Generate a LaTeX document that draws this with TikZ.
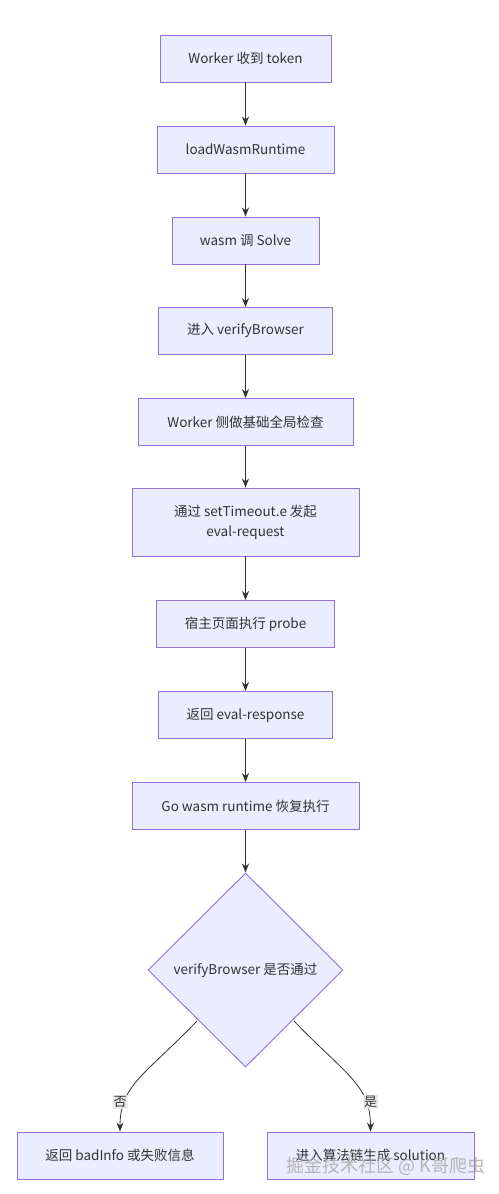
\documentclass[tikz,border=0pt]{standalone}
\usepackage{fontspec}
\setmainfont{Noto Sans CJK SC}
\usetikzlibrary{shapes.geometric,arrows.meta}
\definecolor{boxfill}{HTML}{ECECFF}
\definecolor{boxline}{HTML}{9370DB}
\definecolor{txt}{HTML}{333333}
\definecolor{lblbg}{HTML}{E8E8E8}
\tikzset{
  stepbox/.style={draw=boxline, fill=boxfill, line width=0.9pt, minimum height=47pt, inner sep=0pt, align=center, text=txt, font=\fontsize{13.5}{20}\selectfont},
  decbox/.style={diamond, draw=boxline, fill=boxfill, line width=0.9pt, minimum width=195pt, minimum height=194pt, inner sep=0pt, text=txt, font=\fontsize{13.5}{20}\selectfont},
  conn/.style={draw=txt, line width=0.8pt, -{Stealth[length=9pt,width=7pt]}},
  elabel/.style={fill=lblbg, fill opacity=0.85, text opacity=1, inner sep=1pt, text=txt, font=\fontsize{13}{16}\selectfont}
}
\begin{document}
\begin{tikzpicture}[x=1pt,y=-1pt]
\useasboundingbox (0,0) rectangle (498,1194);
\fill[white] (0,0) rectangle (498,1194);
\node[stepbox, minimum width=171pt] (n1) at (245.5,58.5) {Worker 收到 token};
\node[stepbox, minimum width=177pt] (n2) at (245.5,149.5) {loadWasmRuntime};
\node[stepbox, minimum width=147pt] (n3) at (245.5,240.5) {wasm 调 Solve};
\node[stepbox, minimum width=174pt] (n4) at (245.5,331) {进入 verifyBrowser};
\node[stepbox, minimum width=215pt] (n5) at (245.5,422) {Worker 侧做基础全局检查};
\node[stepbox, minimum width=227pt, minimum height=68pt] (n6) at (245.5,522) {通过 setTimeout.e 发起\\eval-request};
\node[stepbox, minimum width=178pt] (n7) at (245.5,624) {宿主页面执行 probe};
\node[stepbox, minimum width=174pt] (n8) at (245.5,715) {返回 eval-response};
\node[stepbox, minimum width=227pt] (n9) at (245.5,806) {Go wasm runtime 恢复执行};
\node[decbox] (d) at (245.5,970) {verifyBrowser 是否通过};
\node[stepbox, minimum width=206pt] (no) at (120,1155.5) {返回 badInfo 或失败信息};
\node[stepbox, minimum width=207pt] (yes) at (370.5,1155.5) {进入算法链生成 solution};
\draw[conn] (n1) -- (n2);
\draw[conn] (n2) -- (n3);
\draw[conn] (n3) -- (n4);
\draw[conn] (n4) -- (n5);
\draw[conn] (n5) -- (n6);
\draw[conn] (n6) -- (n7);
\draw[conn] (n7) -- (n8);
\draw[conn] (n8) -- (n9);
\draw[conn] (n9) -- (d);
\coordinate (dl) at (197,1021);
\coordinate (dr) at (294,1021);
\draw[conn] (dl) .. controls (145,1075) and (120,1085) .. (no.north);
\draw[conn] (dr) .. controls (346,1075) and (370.5,1085) .. (yes.north);
\node[elabel] (lno) at (120,1102) {否};
\node[elabel] (lyes) at (370.5,1102) {是};
\node[text=gray!70, font=\fontsize{18}{20}\selectfont, opacity=0.8] (wm) at (386,1166) {掘金技术社区 @ K哥爬虫};
\end{tikzpicture}
\end{document}
